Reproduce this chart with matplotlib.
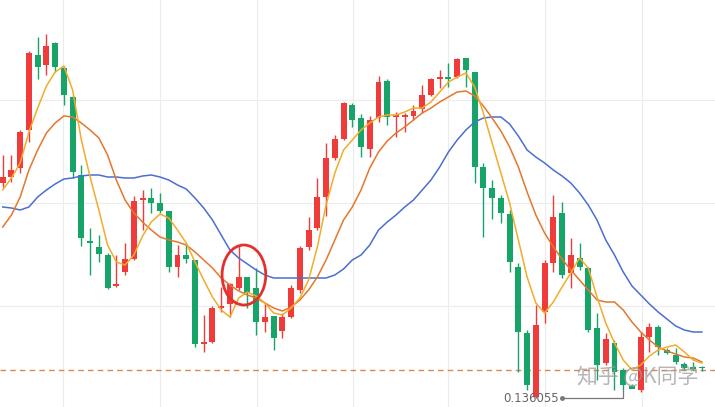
import numpy as np
import matplotlib
matplotlib.use("Agg")
import matplotlib.pyplot as plt
from matplotlib.patches import Ellipse

# OHLC of the visible candles (price)
opens = [0.14635, 0.14665, 0.14710, 0.14900, 0.15275, 0.15225, 0.15335, 0.15210, 0.15065, 0.14675,
         0.14345, 0.14315, 0.14275, 0.14120, 0.14190, 0.14255, 0.14550, 0.14560, 0.14535, 0.14495,
         0.14215, 0.14275, 0.14250, 0.13830, 0.13840, 0.14010, 0.14030, 0.14110, 0.14165, 0.14110,
         0.13940, 0.13970, 0.13895, 0.13965, 0.14100, 0.14315, 0.14410, 0.14565, 0.14760, 0.14855,
         0.15025, 0.14960, 0.14805, 0.14960, 0.15145, 0.14965, 0.14965, 0.14970, 0.15005, 0.15075,
         0.15155, 0.15165, 0.15165, 0.15260, 0.15190, 0.14715, 0.14610, 0.14560, 0.14480, 0.14215,
         0.13885, 0.13565, 0.13990, 0.14235, 0.14485, 0.14185, 0.14260, 0.14210, 0.13910, 0.13735,
         0.13835, 0.13700, 0.13620, 0.13600, 0.13865, 0.13915, 0.13800, 0.13775, 0.13730, 0.13715,
         0.13710]
closes = [0.14665, 0.14700, 0.14890, 0.15285, 0.15215, 0.15320, 0.15215, 0.15075, 0.14690, 0.14360,
          0.14335, 0.14280, 0.14110, 0.14125, 0.14255, 0.14545, 0.14555, 0.14535, 0.14495, 0.14215,
          0.14275, 0.14255, 0.13830, 0.13840, 0.14010, 0.14020, 0.14130, 0.14165, 0.14085, 0.13940,
          0.13965, 0.13860, 0.13965, 0.14110, 0.14310, 0.14400, 0.14565, 0.14760, 0.14855, 0.15035,
          0.14950, 0.14815, 0.14950, 0.15140, 0.14965, 0.14975, 0.14975, 0.14995, 0.15075, 0.15155,
          0.15165, 0.15155, 0.15255, 0.15200, 0.14715, 0.14610, 0.14560, 0.14485, 0.14240, 0.13890,
          0.13625, 0.13925, 0.14235, 0.14465, 0.14175, 0.14275, 0.14215, 0.13900, 0.13725, 0.13855,
          0.13690, 0.13625, 0.13605, 0.13865, 0.13915, 0.13815, 0.13785, 0.13740, 0.13710, 0.13705,
          0.13708]
highs = [0.14775, 0.14775, 0.14900, 0.15295, 0.15365, 0.15380, 0.15340, 0.15220, 0.15075, 0.14725,
         0.14410, 0.14375, 0.14285, 0.14275, 0.14335, 0.14570, 0.14600, 0.14610, 0.14585, 0.14495,
         0.14325, 0.14335, 0.14250, 0.13975, 0.14020, 0.14115, 0.14135, 0.14325, 0.14165, 0.14210,
         0.14035, 0.13970, 0.13985, 0.14125, 0.14320, 0.14465, 0.14660, 0.14835, 0.14875, 0.15040,
         0.15035, 0.14980, 0.14970, 0.15170, 0.15155, 0.14990, 0.14985, 0.15025, 0.15125, 0.15160,
         0.15200, 0.15235, 0.15260, 0.15260, 0.15190, 0.14735, 0.14650, 0.14575, 0.14500, 0.14235,
         0.13900, 0.14025, 0.14250, 0.14575, 0.14540, 0.14360, 0.14335, 0.14215, 0.13985, 0.13885,
         0.13850, 0.13710, 0.13630, 0.13890, 0.13935, 0.13925, 0.13810, 0.13810, 0.13740, 0.13740,
         0.13720]
lows = [0.14615, 0.14640, 0.14685, 0.14840, 0.15155, 0.15175, 0.15190, 0.15025, 0.14660, 0.14320,
        0.14175, 0.14240, 0.14105, 0.14115, 0.14175, 0.14250, 0.14400, 0.14485, 0.14485, 0.14190,
        0.14165, 0.14235, 0.13815, 0.13790, 0.13835, 0.13990, 0.13965, 0.14100, 0.14010, 0.13875,
        0.13890, 0.13800, 0.13860, 0.13960, 0.14085, 0.14300, 0.14400, 0.14470, 0.14750, 0.14850,
        0.14915, 0.14765, 0.14765, 0.14940, 0.14925, 0.14865, 0.14890, 0.14950, 0.14985, 0.15070,
        0.15110, 0.15115, 0.15160, 0.15115, 0.14635, 0.14365, 0.14455, 0.14435, 0.14190, 0.13690,
        0.13600, 0.13560, 0.13935, 0.14190, 0.14160, 0.14110, 0.14200, 0.13890, 0.13650, 0.13725,
        0.13600, 0.136055, 0.13610, 0.13590, 0.13790, 0.13775, 0.13780, 0.13730, 0.13700, 0.13700,
        0.13695]

# moving averages as drawn
ma5 = [0.14600, 0.14660, 0.14735, 0.14890, 0.15010, 0.15120, 0.15190, 0.15220, 0.15100, 0.14850,
       0.14665, 0.14500, 0.14325, 0.14240, 0.14225, 0.14275, 0.14370, 0.14440, 0.14480, 0.14460,
       0.14400, 0.14335, 0.14240, 0.14150, 0.14065, 0.14000, 0.13965, 0.14060, 0.14090, 0.14070,
       0.14035, 0.13985, 0.13975, 0.14010, 0.14060, 0.14150, 0.14315, 0.14525, 0.14685, 0.14800,
       0.14850, 0.14900, 0.14935, 0.14965, 0.14975, 0.14975, 0.14990, 0.15010, 0.15010, 0.15040,
       0.15090, 0.15140, 0.15165, 0.15185, 0.15115, 0.14985, 0.14835, 0.14685, 0.14535, 0.14350,
       0.14165, 0.14035, 0.13985, 0.14040, 0.14115, 0.14185, 0.14260, 0.14210, 0.14065, 0.13935,
       0.13835, 0.13750, 0.13700, 0.13725, 0.13770, 0.13800, 0.13815, 0.13825, 0.13790, 0.13750,
       0.13735]
ma10 = [0.14415, 0.14475, 0.14565, 0.14700, 0.14800, 0.14885, 0.14935, 0.14970, 0.14965, 0.14935,
        0.14900, 0.14860, 0.14775, 0.14650, 0.14550, 0.14485, 0.14440, 0.14400, 0.14365, 0.14350,
        0.14340, 0.14325, 0.14290, 0.14250, 0.14210, 0.14160, 0.14125, 0.14095, 0.14075, 0.14060,
        0.14035, 0.14010, 0.13995, 0.14015, 0.14050, 0.14100, 0.14165, 0.14250, 0.14350, 0.14450,
        0.14515, 0.14600, 0.14710, 0.14790, 0.14845, 0.14885, 0.14915, 0.14950, 0.14985, 0.15010,
        0.15040, 0.15065, 0.15090, 0.15095, 0.15070, 0.15020, 0.14960, 0.14895, 0.14815, 0.14715,
        0.14590, 0.14475, 0.14385, 0.14315, 0.14255, 0.14200, 0.14150, 0.14100, 0.14050, 0.14040,
        0.14040, 0.14000, 0.13940, 0.13890, 0.13850, 0.13815, 0.13795, 0.13780, 0.13765, 0.13760,
        0.13740]
ma30 = [0.14515, 0.14510, 0.14500, 0.14515, 0.14565, 0.14600, 0.14630, 0.14655, 0.14660, 0.14670,
        0.14675, 0.14675, 0.14665, 0.14665, 0.14660, 0.14660, 0.14670, 0.14675, 0.14665, 0.14650,
        0.14625, 0.14605, 0.14560, 0.14510, 0.14450, 0.14375, 0.14300, 0.14260, 0.14230, 0.14200,
        0.14175, 0.14160, 0.14160, 0.14160, 0.14160, 0.14160, 0.14160, 0.14160, 0.14175, 0.14205,
        0.14250, 0.14275, 0.14325, 0.14400, 0.14440, 0.14475, 0.14515, 0.14550, 0.14600, 0.14650,
        0.14715, 0.14790, 0.14850, 0.14900, 0.14940, 0.14960, 0.14965, 0.14965, 0.14930, 0.14870,
        0.14800, 0.14765, 0.14735, 0.14700, 0.14670, 0.14635, 0.14585, 0.14525, 0.14450, 0.14350,
        0.14275, 0.14190, 0.14120, 0.14075, 0.14030, 0.13990, 0.13955, 0.13920, 0.13900, 0.13890,
        0.13890]

ref_price = 0.13700          # dashed reference line
mark_idx = 71                # candle with the low-price label
circle_idx = 27.6            # centre of the red circle (candle units)
circle_price = 0.14175
watermark = "知乎 @K同学"

UP = "#f03b3b"
DOWN = "#17a468"

o = np.array(opens); c = np.array(closes)
h = np.array(highs); l = np.array(lows)
x = np.arange(len(o))
up = c >= o

fig = plt.figure(figsize=(7.15, 4.07), dpi=100)
ax = fig.add_axes([0, 0, 1, 1])
ax.set_xlim(-0.31, 81.5)
ax.set_ylim(0.13515, 0.1555)

# faint grid
ax.set_xticks([6.9, 18.0, 29.1, 40.1, 50.95, 62.05, 73.15])
ax.set_yticks([0.1402, 0.14535, 0.1505])
ax.grid(True, color="#ececec", linewidth=0.8)
ax.tick_params(length=0, labelbottom=False, labelleft=False)
for s in ax.spines.values():
    s.set_visible(False)
ax.set_axisbelow(True)

# candles
cols = np.where(up, UP, DOWN)
ax.vlines(x, l, h, colors=cols, linewidth=1.0, zorder=2)
bottom = np.minimum(o, c)
height = np.maximum(np.abs(c - o), 0.00008)
ax.bar(x, height, bottom=bottom, width=0.68, color=cols, linewidth=0, zorder=3)

# moving averages
ax.plot(x, ma30, color="#4b6fd1", lw=1.1, zorder=4)
ax.plot(x, ma10, color="#e5772b", lw=1.1, zorder=4)
ax.plot(x, ma5, color="#f2ac2a", lw=1.1, zorder=5)

# dashed reference line
ax.axhline(ref_price, color="#d9894f", lw=1.0, dashes=(4, 3), zorder=1)

# red circle
ax.add_patch(Ellipse((circle_idx, circle_price), 5.0, 0.003, fill=False,
                     edgecolor="#e3302c", lw=2.0, zorder=6))

# low-price label
lab_y = 0.13560
ax.plot([64.0, mark_idx, mark_idx], [lab_y, lab_y, lows[mark_idx]],
        color="#777777", lw=0.9, zorder=6)
ax.plot([64.0], [lab_y], marker="o", ms=2.5, color="#777777", zorder=6)
ax.text(63.6, lab_y, f"{lows[mark_idx]:.6f}", ha="right", va="center",
        fontsize=8.5, color="#666666", zorder=6)

# watermark
ax.text(72.6, 0.13665, watermark, ha="center", va="center", fontsize=15,
        color="#9c9c9c", alpha=0.75, family=["Noto Sans CJK SC", "DejaVu Sans"], zorder=7)

fig.savefig("out.png", dpi=100)
